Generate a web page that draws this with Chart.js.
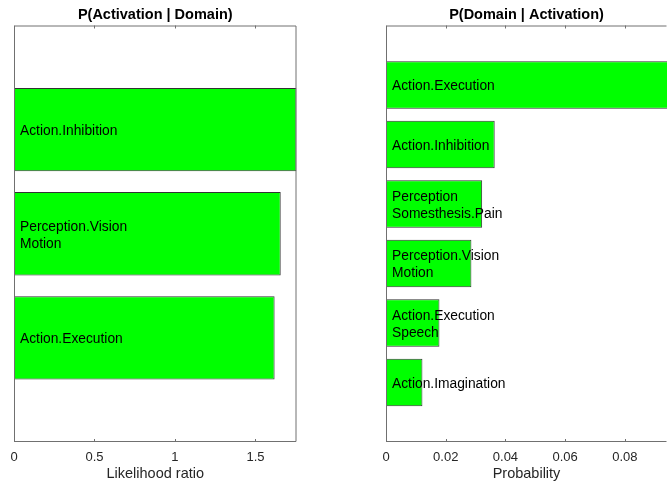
<!DOCTYPE html>
<html>
<head>
<meta charset="utf-8">
<script src="https://cdn.jsdelivr.net/npm/chart.js@4.4.1/dist/chart.umd.min.js"></script>
<style>
  html, body { margin: 0; padding: 0; background: #fff; }
  #page { position: relative; width: 667px; height: 487px; overflow: hidden; }
  .panel { position: absolute; top: 0; height: 487px; }
</style>
</head>
<body>
<div id="page">
  <div class="panel" style="left:0;width:330px"><canvas id="lrChart"></canvas></div>
  <div class="panel" style="left:333px;width:334px"><canvas id="probChart"></canvas></div>
</div>
<script>
// P(Activation | Domain) — likelihood ratios
const lrDomains = ['Action.Inhibition', 'Perception.Vision\nMotion', 'Action.Execution'];
const lrValues = [1.755, 1.657, 1.619];
const lrTicks = [0, 0.5, 1, 1.5];
const lrMax = 1.755;

// P(Domain | Activation) — probabilities
const probDomains = [
  'Action.Execution',
  'Action.Inhibition',
  'Perception\nSomesthesis.Pain',
  'Perception.Vision\nMotion',
  'Action.Execution\nSpeech',
  'Action.Imagination',
];
const probValues = [0.095, 0.0364, 0.0322, 0.0286, 0.0179, 0.0122];
const probTicks = [0, 0.02, 0.04, 0.06, 0.08];
const probMax = 0.0941;

const FONT = 'Helvetica, "Liberation Sans", Arial, sans-serif';
const axisColor = '#707070';
const textColor = '#262626';

// frame, inward ticks, title, x label and in-bar labels
const matlabAxes = {
  id: 'matlabAxes',
  afterDatasetsDraw(chart, args, opts) {
    const { ctx, chartArea: a } = chart;
    const x = chart.scales.x;
    ctx.save();
    ctx.strokeStyle = axisColor;
    ctx.lineWidth = 1;
    ctx.beginPath();
    ctx.moveTo(a.right - 0.5, a.top + 0.5);
    ctx.lineTo(a.left + 0.5, a.top + 0.5);
    ctx.lineTo(a.left + 0.5, a.bottom - 0.5);
    ctx.lineTo(a.right - 0.5, a.bottom - 0.5);
    if (opts.rightEdge) {
      ctx.lineTo(a.right - 0.5, a.top + 0.5);
    }
    ctx.stroke();

    // ticks point into the box, top and bottom
    ctx.beginPath();
    opts.ticks.forEach(v => {
      const px = Math.round(x.getPixelForValue(v)) + 0.5;
      ctx.moveTo(px, a.top);
      ctx.lineTo(px, a.top + 3);
      ctx.moveTo(px, a.bottom);
      ctx.lineTo(px, a.bottom - 3);
    });
    ctx.stroke();

    const cx = (a.left + a.right) / 2;
    ctx.fillStyle = '#000';
    ctx.textAlign = 'center';
    ctx.textBaseline = 'middle';
    ctx.font = 'bold 14.5px ' + FONT;
    ctx.fillText(opts.title, cx, 15);
    ctx.fillStyle = textColor;
    ctx.font = '14.5px ' + FONT;
    ctx.fillText(opts.xlabel, cx, 474);

    // domain names inside the bars
    ctx.fillStyle = '#000';
    ctx.textAlign = 'left';
    ctx.font = '13.8px ' + FONT;
    const meta = chart.getDatasetMeta(0);
    opts.labels.forEach((lab, i) => {
      const el = meta.data[i];
      const lines = lab.split('\n');
      const lh = 17;
      const y0 = el.y + 1.5 - (lines.length - 1) * lh / 2;
      lines.forEach((ln, j) => ctx.fillText(ln, a.left + 6, y0 + j * lh));
    });
    ctx.restore();
  },
};

function renderPanel(canvasId, labels, values, ticks, max, title, xlabel, padRight, padLeft, rightEdge) {
  const el = document.getElementById(canvasId);
  const data = values.map((v, i) => ({ x: v, y: i + 1 }));

  return new Chart(el, {
    type: 'bar',
    data: {
      datasets: [{
        data,
        backgroundColor: '#00ff00',
        borderColor: '#333333',
        borderWidth: 1,
        borderSkipped: false,
        barPercentage: 0.8,
        categoryPercentage: 1,
      }],
    },
    options: {
      indexAxis: 'y',
      responsive: true,
      maintainAspectRatio: false,
      animation: false,
      layout: { padding: { left: padLeft, right: padRight, top: 25.5, bottom: 0 } },
      plugins: {
        legend: { display: false },
        tooltip: { enabled: false },
        matlabAxes: { title, xlabel, labels, ticks, rightEdge },
      },
      scales: {
        x: {
          type: 'linear',
          min: 0,
          max,
          grid: { display: false },
          border: { display: false },
          afterBuildTicks: (s) => { s.ticks = ticks.map(v => ({ value: v })); },
          afterFit: (s) => { s.height = 45; },
          ticks: {
            color: textColor,
            font: { family: FONT, size: 13 },
            padding: 0,
            autoSkip: false,
            maxRotation: 0,
            callback: (v) => String(v),
          },
        },
        y: {
          type: 'linear',
          min: 0,
          max: labels.length + 1,
          reverse: true,
          offset: false,
          display: false,
          ticks: { stepSize: 1 },
        },
      },
    },
    plugins: [matlabAxes],
  });
}

renderPanel('lrChart', lrDomains, lrValues, lrTicks, lrMax,
  'P(Activation | Domain)', 'Likelihood ratio', 33.5, 14, true);
renderPanel('probChart', probDomains, probValues, probTicks, probMax,
  'P(Domain | Activation)', 'Probability', 0, 53, false);
</script>
</body>
</html>
